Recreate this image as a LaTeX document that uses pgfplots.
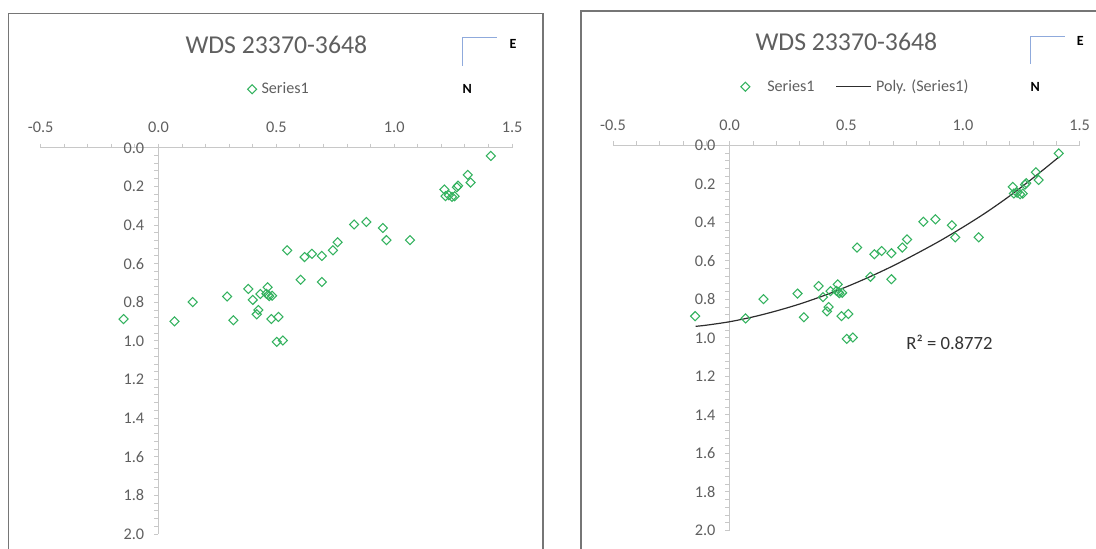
\documentclass[border=0pt]{standalone}
\usepackage{pgfplots}
\usepackage{pgfplotstable}
\pgfplotsset{compat=1.18}
\usepackage{fontspec}
\setmainfont{Carlito}
\definecolor{mgreen}{RGB}{52,178,95}
\definecolor{axgray}{RGB}{200,200,200}
\definecolor{tkgray}{RGB}{95,95,95}
\definecolor{frgray}{RGB}{118,118,118}
\definecolor{cblue}{RGB}{143,170,220}
\definecolor{trend}{RGB}{45,45,45}

\pgfplotstableread{
x y
1.410 0.042
1.312 0.140
1.324 0.180
1.271 0.196
1.266 0.204
1.213 0.216
1.218 0.250
1.232 0.246
1.245 0.254
1.256 0.251
0.830 0.397
0.882 0.384
0.952 0.415
0.967 0.478
1.067 0.478
0.760 0.489
0.740 0.531
0.546 0.531
0.620 0.566
0.651 0.549
0.693 0.560
0.603 0.683
0.693 0.695
0.381 0.731
0.463 0.722
0.432 0.757
0.458 0.756
0.466 0.762
0.470 0.768
0.482 0.766
0.291 0.770
0.400 0.788
0.145 0.799
0.424 0.840
0.417 0.862
0.509 0.876
0.479 0.887
0.318 0.893
-0.148 0.887
0.068 0.899
0.502 1.005
0.528 0.998
}\datatable

\pgfplotstableread{
x y
-0.146 0.940
-0.100 0.934
0.000 0.916
0.100 0.891
0.200 0.860
0.300 0.824
0.400 0.782
0.500 0.735
0.600 0.683
0.700 0.626
0.800 0.563
0.900 0.497
1.000 0.425
1.100 0.348
1.200 0.263
1.300 0.170
1.410 0.062
}\trendtable

\pgfplotsset{
  wds/.style={
    scale only axis,
    xmin=-0.5, xmax=1.5, ymin=0, ymax=2,
    y dir=reverse,
    axis lines=center,
    hide obscured x ticks=false,
    hide obscured y ticks=false,
    axis line style={-, draw=axgray, line width=0.9pt},
    xtick={-0.5,0,0.5,1,1.5},
    ytick={0,0.2,0.4,0.6,0.8,1.0,1.2,1.4,1.6,1.8,2.0},
    minor x tick num=4,
    minor y tick num=4,
    tick align=outside,
    major tick length=3.2pt, minor tick length=3.2pt,
    every tick/.style={draw=axgray, line width=0.75pt},
    tick label style={font=\fontsize{12.2}{14}\selectfont, text=tkgray},
    xticklabel style={anchor=south, yshift=11pt},
    yticklabel style={xshift=-4pt},
    xticklabel={\pgfmathprintnumber[fixed,fixed zerofill,precision=1,assume math mode=true]{\tick}},
    yticklabel={\pgfmathprintnumber[fixed,fixed zerofill,precision=1,assume math mode=true]{\tick}},
    every axis title shift=0pt,
    title style={font=\fontsize{19.3}{23}\selectfont, text=tkgray, anchor=center},
    legend style={draw=none, fill=none, anchor=center, legend columns=-1,
      font=\fontsize{12.1}{14}\selectfont, text=tkgray,
      nodes={inner sep=0pt},
      /tikz/every odd column/.append style={column sep=3.6pt},
      /tikz/every even column/.append style={column sep=16pt}},
    clip=false,
  },
  sermark/.style={only marks, mark=square, mark size=2.4pt,
    mark options={rotate=45, draw=mgreen, fill=none, line width=0.8pt}},
  legL/.style={legend image code/.code={\draw[##1] plot coordinates {(3.4pt,0pt)};}},
  legR/.style={legend image code/.code={\path[draw=none,fill=none] (0pt,0pt) -- (25.6pt,0pt); \draw[##1] plot coordinates {(12.8pt,0pt)};}},
  legT/.style={legend image code/.code={\draw[##1] (0pt,0pt) -- (25.6pt,0pt);}},
}

\begin{document}
\begin{tikzpicture}
\useasboundingbox (0,0) rectangle (822pt,411.75pt);
\clip (0,0) rectangle (822pt,411.75pt);

% left chart
\draw[frgray, line width=1.1pt] (6.2pt,-5pt) -- (6.2pt,401.8pt) -- (407.25pt,401.8pt) -- (407.25pt,-5pt);
\begin{axis}[wds,
  at={(30.45pt,11.25pt)}, anchor=south west,
  width=353.6pt, height=289.65pt,
  title={WDS 23370-3648}, title style={at={(0.5,1.2675)}},
  legend style={at={(0.504,1.1515)}},
]
\addplot[sermark, legL] table[x=x,y=y] {\datatable};
\addlegendentry{Series1}
\end{axis}
\draw[cblue, line width=0.8pt] (372.7pt,383.4pt) -- (346.9pt,383.4pt) -- (346.9pt,362.6pt);
\node[font=\fontsize{10.5}{12}\selectfont\bfseries] at (384.75pt,378.9pt) {E};
\node[font=\fontsize{10.5}{12}\selectfont\bfseries] at (350.5pt,344.8pt) {N};

% right chart
\draw[frgray, line width=1.1pt] (435.75pt,-5pt) -- (435.75pt,403.35pt) -- (830pt,403.35pt);
\begin{axis}[wds,
  at={(459.75pt,13.875pt)}, anchor=south west,
  width=350.0pt, height=288.9pt,
  title={WDS 23370-3648}, title style={at={(0.5,1.268)}},
  legend style={at={(0.5044,1.152)}},
]
\addplot[sermark, legR] table[x=x,y=y] {\datatable};
\addlegendentry{Series1}
\addplot[trend, line width=0.9pt, smooth, no marks, legT] table[x=x,y=y] {\trendtable};
\addlegendentry{Poly. (Series1)}
\node[font=\fontsize{14}{16}\selectfont, text=black!80] at (axis cs:0.942,1.023) {R² = 0.8772};
\end{axis}
\draw[cblue, line width=0.8pt] (798.5pt,384.7pt) -- (772.6pt,384.7pt) -- (772.6pt,364.0pt);
\node[font=\fontsize{10.5}{12}\selectfont\bfseries] at (810.2pt,381pt) {E};
\node[font=\fontsize{10.5}{12}\selectfont\bfseries] at (776.4pt,346.6pt) {N};
\end{tikzpicture}
\end{document}
